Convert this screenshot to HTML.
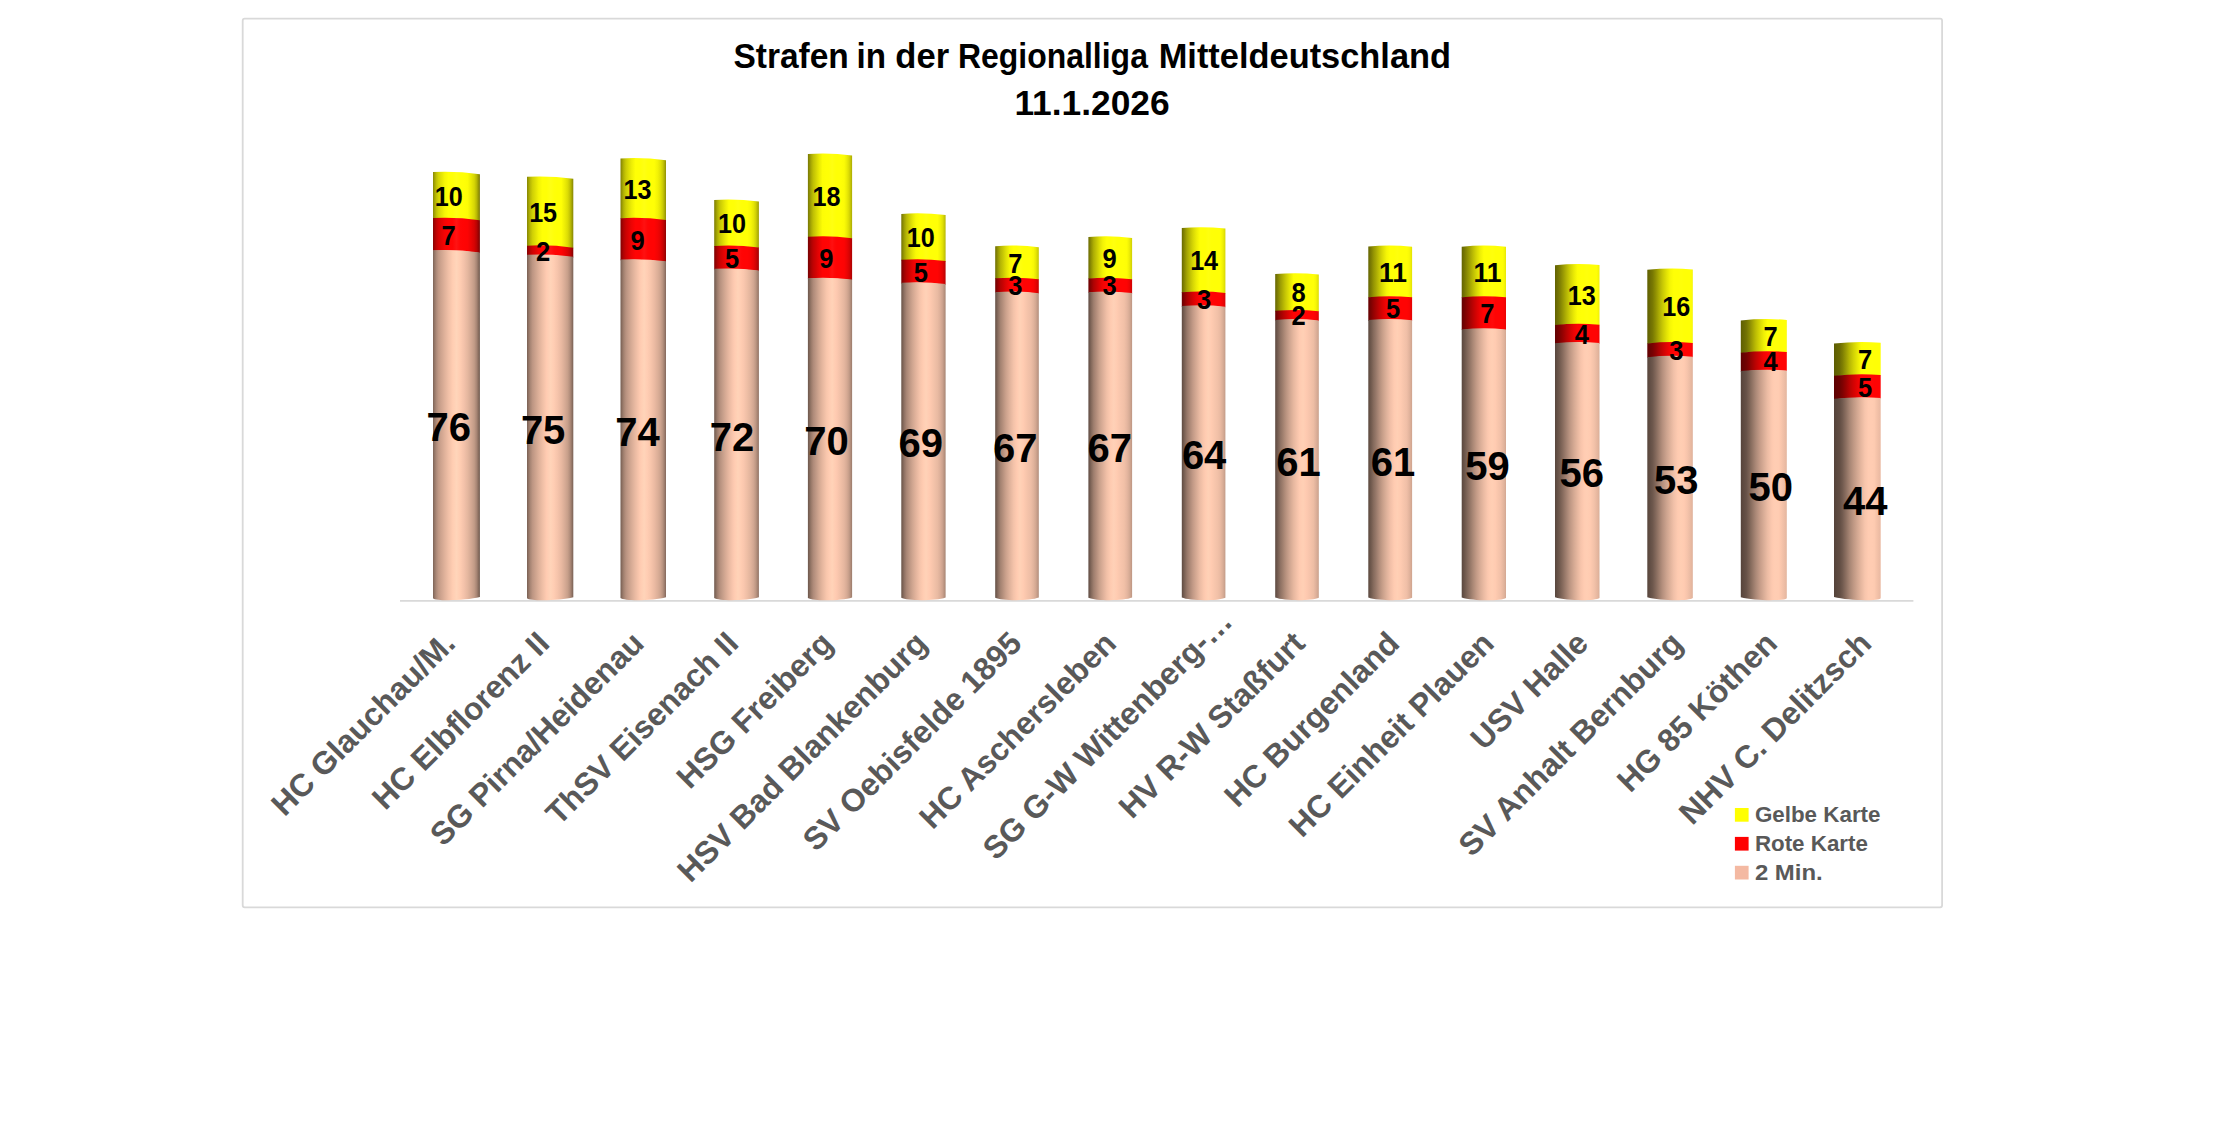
<!DOCTYPE html>
<html lang="de"><head><meta charset="utf-8"><title>Strafen in der Regionalliga Mitteldeutschland</title>
<style>html,body{margin:0;padding:0;background:#fff}svg{display:block}text{font-family:"Liberation Sans",sans-serif;font-weight:bold}</style></head><body>
<svg width="2214" height="1146" viewBox="0 0 2214 1146">
<defs>
<linearGradient id="g0_0" gradientUnits="userSpaceOnUse" x1="433" x2="479.9" y1="0" y2="0"><stop offset="0" stop-color="#7d6357"/><stop offset="0.03" stop-color="#937566"/><stop offset="0.07" stop-color="#ac8978"/><stop offset="0.12" stop-color="#c29a86"/><stop offset="0.18" stop-color="#d0a590"/><stop offset="0.25" stop-color="#e0b29b"/><stop offset="0.33" stop-color="#f1c0a7"/><stop offset="0.42" stop-color="#ffcdb2"/><stop offset="0.43" stop-color="#ffceb3"/><stop offset="0.5" stop-color="#ffd5ba"/><stop offset="0.57" stop-color="#ffceb3"/><stop offset="0.58" stop-color="#ffcdb2"/><stop offset="0.66" stop-color="#f4c2aa"/><stop offset="0.74" stop-color="#e5b79f"/><stop offset="0.82" stop-color="#d2a792"/><stop offset="0.88" stop-color="#c29b87"/><stop offset="0.93" stop-color="#a88675"/><stop offset="0.97" stop-color="#886c5e"/><stop offset="1" stop-color="#6c564b"/></linearGradient>
<linearGradient id="g0_1" gradientUnits="userSpaceOnUse" x1="433" x2="479.9" y1="0" y2="0"><stop offset="0" stop-color="#890202"/><stop offset="0.03" stop-color="#a10303"/><stop offset="0.07" stop-color="#be0303"/><stop offset="0.12" stop-color="#d50303"/><stop offset="0.18" stop-color="#e40404"/><stop offset="0.25" stop-color="#f60404"/><stop offset="0.33" stop-color="#ff0404"/><stop offset="0.42" stop-color="#ff0606"/><stop offset="0.43" stop-color="#ff0808"/><stop offset="0.5" stop-color="#ff1313"/><stop offset="0.57" stop-color="#ff0808"/><stop offset="0.58" stop-color="#ff0606"/><stop offset="0.66" stop-color="#ff0404"/><stop offset="0.74" stop-color="#fc0404"/><stop offset="0.82" stop-color="#e70404"/><stop offset="0.88" stop-color="#d60303"/><stop offset="0.93" stop-color="#b90303"/><stop offset="0.97" stop-color="#950202"/><stop offset="1" stop-color="#770202"/></linearGradient>
<linearGradient id="g0_2" gradientUnits="userSpaceOnUse" x1="433" x2="479.9" y1="0" y2="0"><stop offset="0" stop-color="#898903"/><stop offset="0.03" stop-color="#a1a104"/><stop offset="0.07" stop-color="#bebe04"/><stop offset="0.12" stop-color="#d5d505"/><stop offset="0.18" stop-color="#e4e405"/><stop offset="0.25" stop-color="#f6f606"/><stop offset="0.33" stop-color="#ffff06"/><stop offset="0.42" stop-color="#ffff08"/><stop offset="0.43" stop-color="#ffff0a"/><stop offset="0.5" stop-color="#ffff15"/><stop offset="0.57" stop-color="#ffff0a"/><stop offset="0.58" stop-color="#ffff08"/><stop offset="0.66" stop-color="#ffff06"/><stop offset="0.74" stop-color="#fcfc06"/><stop offset="0.82" stop-color="#e7e705"/><stop offset="0.88" stop-color="#d6d605"/><stop offset="0.93" stop-color="#b9b904"/><stop offset="0.97" stop-color="#959504"/><stop offset="1" stop-color="#777703"/></linearGradient>
<linearGradient id="g1_0" gradientUnits="userSpaceOnUse" x1="527" x2="573.3" y1="0" y2="0"><stop offset="0" stop-color="#796054"/><stop offset="0.03" stop-color="#8e7162"/><stop offset="0.07" stop-color="#a78574"/><stop offset="0.12" stop-color="#bd9683"/><stop offset="0.18" stop-color="#cca28d"/><stop offset="0.25" stop-color="#ddb099"/><stop offset="0.33" stop-color="#eebea5"/><stop offset="0.42" stop-color="#ffcbb1"/><stop offset="0.44" stop-color="#ffcdb3"/><stop offset="0.5" stop-color="#ffd3b8"/><stop offset="0.51" stop-color="#ffd4b9"/><stop offset="0.58" stop-color="#ffcdb3"/><stop offset="0.58" stop-color="#ffcdb3"/><stop offset="0.66" stop-color="#f6c4ab"/><stop offset="0.74" stop-color="#e9b9a1"/><stop offset="0.82" stop-color="#d7ab95"/><stop offset="0.88" stop-color="#c79f8a"/><stop offset="0.93" stop-color="#b08c7a"/><stop offset="0.97" stop-color="#917465"/><stop offset="1" stop-color="#775f53"/></linearGradient>
<linearGradient id="g1_1" gradientUnits="userSpaceOnUse" x1="527" x2="573.3" y1="0" y2="0"><stop offset="0" stop-color="#850202"/><stop offset="0.03" stop-color="#9c0202"/><stop offset="0.07" stop-color="#b80303"/><stop offset="0.12" stop-color="#d00303"/><stop offset="0.18" stop-color="#e00404"/><stop offset="0.25" stop-color="#f30404"/><stop offset="0.33" stop-color="#ff0404"/><stop offset="0.42" stop-color="#ff0404"/><stop offset="0.44" stop-color="#ff0707"/><stop offset="0.5" stop-color="#ff1010"/><stop offset="0.51" stop-color="#ff1212"/><stop offset="0.58" stop-color="#ff0808"/><stop offset="0.58" stop-color="#ff0808"/><stop offset="0.66" stop-color="#ff0404"/><stop offset="0.74" stop-color="#ff0404"/><stop offset="0.82" stop-color="#ec0404"/><stop offset="0.88" stop-color="#db0303"/><stop offset="0.93" stop-color="#c10303"/><stop offset="0.97" stop-color="#a00303"/><stop offset="1" stop-color="#830202"/></linearGradient>
<linearGradient id="g1_2" gradientUnits="userSpaceOnUse" x1="527" x2="573.3" y1="0" y2="0"><stop offset="0" stop-color="#858503"/><stop offset="0.03" stop-color="#9c9c04"/><stop offset="0.07" stop-color="#b8b804"/><stop offset="0.12" stop-color="#d0d005"/><stop offset="0.18" stop-color="#e0e005"/><stop offset="0.25" stop-color="#f3f306"/><stop offset="0.33" stop-color="#ffff06"/><stop offset="0.42" stop-color="#ffff06"/><stop offset="0.44" stop-color="#ffff09"/><stop offset="0.5" stop-color="#ffff12"/><stop offset="0.51" stop-color="#ffff14"/><stop offset="0.58" stop-color="#ffff0a"/><stop offset="0.58" stop-color="#ffff09"/><stop offset="0.66" stop-color="#ffff06"/><stop offset="0.74" stop-color="#ffff06"/><stop offset="0.82" stop-color="#ecec06"/><stop offset="0.88" stop-color="#dbdb05"/><stop offset="0.93" stop-color="#c1c105"/><stop offset="0.97" stop-color="#a0a004"/><stop offset="1" stop-color="#838303"/></linearGradient>
<linearGradient id="g2_0" gradientUnits="userSpaceOnUse" x1="620.5" x2="666" y1="0" y2="0"><stop offset="0" stop-color="#755d51"/><stop offset="0.03" stop-color="#896d5f"/><stop offset="0.07" stop-color="#a28170"/><stop offset="0.12" stop-color="#b89280"/><stop offset="0.18" stop-color="#c89f8b"/><stop offset="0.25" stop-color="#d9ad97"/><stop offset="0.33" stop-color="#ebbba3"/><stop offset="0.42" stop-color="#fdc9af"/><stop offset="0.45" stop-color="#ffcdb3"/><stop offset="0.5" stop-color="#ffd2b7"/><stop offset="0.52" stop-color="#ffd4b9"/><stop offset="0.58" stop-color="#ffceb4"/><stop offset="0.59" stop-color="#ffcdb3"/><stop offset="0.66" stop-color="#f8c6ac"/><stop offset="0.74" stop-color="#ecbba3"/><stop offset="0.82" stop-color="#dcaf98"/><stop offset="0.88" stop-color="#cda38e"/><stop offset="0.93" stop-color="#b7927f"/><stop offset="0.97" stop-color="#9b7b6c"/><stop offset="1" stop-color="#83685b"/></linearGradient>
<linearGradient id="g2_1" gradientUnits="userSpaceOnUse" x1="620.5" x2="666" y1="0" y2="0"><stop offset="0" stop-color="#800202"/><stop offset="0.03" stop-color="#960202"/><stop offset="0.07" stop-color="#b20303"/><stop offset="0.12" stop-color="#ca0303"/><stop offset="0.18" stop-color="#dc0303"/><stop offset="0.25" stop-color="#ef0404"/><stop offset="0.33" stop-color="#ff0404"/><stop offset="0.42" stop-color="#ff0404"/><stop offset="0.45" stop-color="#ff0707"/><stop offset="0.5" stop-color="#ff0e0e"/><stop offset="0.52" stop-color="#ff1111"/><stop offset="0.58" stop-color="#ff0909"/><stop offset="0.59" stop-color="#ff0707"/><stop offset="0.66" stop-color="#ff0404"/><stop offset="0.74" stop-color="#ff0404"/><stop offset="0.82" stop-color="#f20404"/><stop offset="0.88" stop-color="#e10404"/><stop offset="0.93" stop-color="#ca0303"/><stop offset="0.97" stop-color="#ab0303"/><stop offset="1" stop-color="#900202"/></linearGradient>
<linearGradient id="g2_2" gradientUnits="userSpaceOnUse" x1="620.5" x2="666" y1="0" y2="0"><stop offset="0" stop-color="#808003"/><stop offset="0.03" stop-color="#969604"/><stop offset="0.07" stop-color="#b2b204"/><stop offset="0.12" stop-color="#caca05"/><stop offset="0.18" stop-color="#dcdc05"/><stop offset="0.25" stop-color="#efef06"/><stop offset="0.33" stop-color="#ffff06"/><stop offset="0.42" stop-color="#ffff06"/><stop offset="0.45" stop-color="#ffff09"/><stop offset="0.5" stop-color="#ffff10"/><stop offset="0.52" stop-color="#ffff13"/><stop offset="0.58" stop-color="#ffff0b"/><stop offset="0.59" stop-color="#ffff09"/><stop offset="0.66" stop-color="#ffff06"/><stop offset="0.74" stop-color="#ffff06"/><stop offset="0.82" stop-color="#f2f206"/><stop offset="0.88" stop-color="#e1e105"/><stop offset="0.93" stop-color="#caca05"/><stop offset="0.97" stop-color="#abab04"/><stop offset="1" stop-color="#909003"/></linearGradient>
<linearGradient id="g3_0" gradientUnits="userSpaceOnUse" x1="714.2" x2="758.9" y1="0" y2="0"><stop offset="0" stop-color="#70594e"/><stop offset="0.03" stop-color="#83695b"/><stop offset="0.07" stop-color="#9c7c6c"/><stop offset="0.12" stop-color="#b38e7c"/><stop offset="0.18" stop-color="#c39c88"/><stop offset="0.25" stop-color="#d6aa94"/><stop offset="0.33" stop-color="#e9b9a1"/><stop offset="0.42" stop-color="#fac7ae"/><stop offset="0.46" stop-color="#ffccb2"/><stop offset="0.5" stop-color="#ffd0b5"/><stop offset="0.53" stop-color="#ffd3b8"/><stop offset="0.58" stop-color="#ffcfb5"/><stop offset="0.6" stop-color="#ffcdb2"/><stop offset="0.66" stop-color="#fac7ae"/><stop offset="0.74" stop-color="#eebea5"/><stop offset="0.82" stop-color="#e0b39c"/><stop offset="0.88" stop-color="#d2a792"/><stop offset="0.93" stop-color="#be9884"/><stop offset="0.97" stop-color="#a58372"/><stop offset="1" stop-color="#8e7163"/></linearGradient>
<linearGradient id="g3_1" gradientUnits="userSpaceOnUse" x1="714.2" x2="758.9" y1="0" y2="0"><stop offset="0" stop-color="#7c0202"/><stop offset="0.03" stop-color="#910202"/><stop offset="0.07" stop-color="#ac0303"/><stop offset="0.12" stop-color="#c50303"/><stop offset="0.18" stop-color="#d70303"/><stop offset="0.25" stop-color="#eb0404"/><stop offset="0.33" stop-color="#ff0404"/><stop offset="0.42" stop-color="#ff0404"/><stop offset="0.46" stop-color="#ff0606"/><stop offset="0.5" stop-color="#ff0b0b"/><stop offset="0.53" stop-color="#ff1111"/><stop offset="0.58" stop-color="#ff0a0a"/><stop offset="0.6" stop-color="#ff0606"/><stop offset="0.66" stop-color="#ff0404"/><stop offset="0.74" stop-color="#ff0404"/><stop offset="0.82" stop-color="#f70404"/><stop offset="0.88" stop-color="#e70404"/><stop offset="0.93" stop-color="#d10303"/><stop offset="0.97" stop-color="#b50303"/><stop offset="1" stop-color="#9c0202"/></linearGradient>
<linearGradient id="g3_2" gradientUnits="userSpaceOnUse" x1="714.2" x2="758.9" y1="0" y2="0"><stop offset="0" stop-color="#7c7c03"/><stop offset="0.03" stop-color="#919103"/><stop offset="0.07" stop-color="#acac04"/><stop offset="0.12" stop-color="#c5c505"/><stop offset="0.18" stop-color="#d7d705"/><stop offset="0.25" stop-color="#ebeb06"/><stop offset="0.33" stop-color="#ffff06"/><stop offset="0.42" stop-color="#ffff06"/><stop offset="0.46" stop-color="#ffff08"/><stop offset="0.5" stop-color="#ffff0d"/><stop offset="0.53" stop-color="#ffff12"/><stop offset="0.58" stop-color="#ffff0c"/><stop offset="0.6" stop-color="#ffff08"/><stop offset="0.66" stop-color="#ffff06"/><stop offset="0.74" stop-color="#ffff06"/><stop offset="0.82" stop-color="#f7f706"/><stop offset="0.88" stop-color="#e7e705"/><stop offset="0.93" stop-color="#d1d105"/><stop offset="0.97" stop-color="#b5b504"/><stop offset="1" stop-color="#9c9c04"/></linearGradient>
<linearGradient id="g4_0" gradientUnits="userSpaceOnUse" x1="807.9" x2="852.1" y1="0" y2="0"><stop offset="0" stop-color="#6c564b"/><stop offset="0.03" stop-color="#7e6558"/><stop offset="0.07" stop-color="#977868"/><stop offset="0.12" stop-color="#ae8a79"/><stop offset="0.18" stop-color="#bf9885"/><stop offset="0.25" stop-color="#d3a892"/><stop offset="0.33" stop-color="#e6b79f"/><stop offset="0.42" stop-color="#f8c6ac"/><stop offset="0.48" stop-color="#ffccb2"/><stop offset="0.5" stop-color="#ffceb4"/><stop offset="0.55" stop-color="#ffd3b8"/><stop offset="0.58" stop-color="#ffd0b5"/><stop offset="0.62" stop-color="#ffccb2"/><stop offset="0.66" stop-color="#fcc8af"/><stop offset="0.74" stop-color="#f1c0a7"/><stop offset="0.82" stop-color="#e5b69f"/><stop offset="0.88" stop-color="#d7ab95"/><stop offset="0.93" stop-color="#c59d89"/><stop offset="0.97" stop-color="#ae8b79"/><stop offset="1" stop-color="#997a6a"/></linearGradient>
<linearGradient id="g4_1" gradientUnits="userSpaceOnUse" x1="807.9" x2="852.1" y1="0" y2="0"><stop offset="0" stop-color="#770202"/><stop offset="0.03" stop-color="#8b0202"/><stop offset="0.07" stop-color="#a60303"/><stop offset="0.12" stop-color="#bf0303"/><stop offset="0.18" stop-color="#d20303"/><stop offset="0.25" stop-color="#e80404"/><stop offset="0.33" stop-color="#fd0404"/><stop offset="0.42" stop-color="#ff0404"/><stop offset="0.48" stop-color="#ff0505"/><stop offset="0.5" stop-color="#ff0909"/><stop offset="0.55" stop-color="#ff1010"/><stop offset="0.58" stop-color="#ff0b0b"/><stop offset="0.62" stop-color="#ff0606"/><stop offset="0.66" stop-color="#ff0404"/><stop offset="0.74" stop-color="#ff0404"/><stop offset="0.82" stop-color="#fc0404"/><stop offset="0.88" stop-color="#ec0404"/><stop offset="0.93" stop-color="#d90303"/><stop offset="0.97" stop-color="#c00303"/><stop offset="1" stop-color="#a90303"/></linearGradient>
<linearGradient id="g4_2" gradientUnits="userSpaceOnUse" x1="807.9" x2="852.1" y1="0" y2="0"><stop offset="0" stop-color="#777703"/><stop offset="0.03" stop-color="#8b8b03"/><stop offset="0.07" stop-color="#a6a604"/><stop offset="0.12" stop-color="#bfbf04"/><stop offset="0.18" stop-color="#d2d205"/><stop offset="0.25" stop-color="#e8e805"/><stop offset="0.33" stop-color="#fdfd06"/><stop offset="0.42" stop-color="#ffff06"/><stop offset="0.48" stop-color="#ffff07"/><stop offset="0.5" stop-color="#ffff0b"/><stop offset="0.55" stop-color="#ffff12"/><stop offset="0.58" stop-color="#ffff0d"/><stop offset="0.62" stop-color="#ffff08"/><stop offset="0.66" stop-color="#ffff06"/><stop offset="0.74" stop-color="#ffff06"/><stop offset="0.82" stop-color="#fcfc06"/><stop offset="0.88" stop-color="#ecec06"/><stop offset="0.93" stop-color="#d9d905"/><stop offset="0.97" stop-color="#c0c005"/><stop offset="1" stop-color="#a9a904"/></linearGradient>
<linearGradient id="g5_0" gradientUnits="userSpaceOnUse" x1="901.3" x2="945.6" y1="0" y2="0"><stop offset="0" stop-color="#685348"/><stop offset="0.03" stop-color="#7a6154"/><stop offset="0.07" stop-color="#917365"/><stop offset="0.12" stop-color="#a98675"/><stop offset="0.18" stop-color="#bb9582"/><stop offset="0.25" stop-color="#cfa590"/><stop offset="0.33" stop-color="#e3b49d"/><stop offset="0.42" stop-color="#f6c4ab"/><stop offset="0.49" stop-color="#ffccb1"/><stop offset="0.5" stop-color="#ffcdb3"/><stop offset="0.56" stop-color="#ffd2b7"/><stop offset="0.58" stop-color="#ffd0b6"/><stop offset="0.63" stop-color="#ffccb2"/><stop offset="0.66" stop-color="#fdc9af"/><stop offset="0.74" stop-color="#f3c2a9"/><stop offset="0.82" stop-color="#e9baa2"/><stop offset="0.88" stop-color="#dcaf99"/><stop offset="0.93" stop-color="#cca28e"/><stop offset="0.97" stop-color="#b8927f"/><stop offset="1" stop-color="#a58372"/></linearGradient>
<linearGradient id="g5_1" gradientUnits="userSpaceOnUse" x1="901.3" x2="945.6" y1="0" y2="0"><stop offset="0" stop-color="#730202"/><stop offset="0.03" stop-color="#860202"/><stop offset="0.07" stop-color="#9f0303"/><stop offset="0.12" stop-color="#b90303"/><stop offset="0.18" stop-color="#cd0303"/><stop offset="0.25" stop-color="#e40404"/><stop offset="0.33" stop-color="#f90404"/><stop offset="0.42" stop-color="#ff0404"/><stop offset="0.49" stop-color="#ff0505"/><stop offset="0.5" stop-color="#ff0707"/><stop offset="0.56" stop-color="#ff0f0f"/><stop offset="0.58" stop-color="#ff0c0c"/><stop offset="0.63" stop-color="#ff0606"/><stop offset="0.66" stop-color="#ff0404"/><stop offset="0.74" stop-color="#ff0404"/><stop offset="0.82" stop-color="#ff0404"/><stop offset="0.88" stop-color="#f20404"/><stop offset="0.93" stop-color="#e10404"/><stop offset="0.97" stop-color="#ca0303"/><stop offset="1" stop-color="#b50303"/></linearGradient>
<linearGradient id="g5_2" gradientUnits="userSpaceOnUse" x1="901.3" x2="945.6" y1="0" y2="0"><stop offset="0" stop-color="#737303"/><stop offset="0.03" stop-color="#868603"/><stop offset="0.07" stop-color="#9f9f04"/><stop offset="0.12" stop-color="#b9b904"/><stop offset="0.18" stop-color="#cdcd05"/><stop offset="0.25" stop-color="#e4e405"/><stop offset="0.33" stop-color="#f9f906"/><stop offset="0.42" stop-color="#ffff06"/><stop offset="0.49" stop-color="#ffff07"/><stop offset="0.5" stop-color="#ffff09"/><stop offset="0.56" stop-color="#ffff11"/><stop offset="0.58" stop-color="#ffff0e"/><stop offset="0.63" stop-color="#ffff08"/><stop offset="0.66" stop-color="#ffff06"/><stop offset="0.74" stop-color="#ffff06"/><stop offset="0.82" stop-color="#ffff06"/><stop offset="0.88" stop-color="#f2f206"/><stop offset="0.93" stop-color="#e1e105"/><stop offset="0.97" stop-color="#caca05"/><stop offset="1" stop-color="#b5b504"/></linearGradient>
<linearGradient id="g6_0" gradientUnits="userSpaceOnUse" x1="995.2" x2="1038.8" y1="0" y2="0"><stop offset="0" stop-color="#645045"/><stop offset="0.03" stop-color="#755d51"/><stop offset="0.07" stop-color="#8b6f61"/><stop offset="0.12" stop-color="#a38271"/><stop offset="0.18" stop-color="#b6917e"/><stop offset="0.25" stop-color="#cca28d"/><stop offset="0.33" stop-color="#dfb29b"/><stop offset="0.42" stop-color="#f3c2a9"/><stop offset="0.5" stop-color="#ffcbb1"/><stop offset="0.5" stop-color="#ffcbb1"/><stop offset="0.57" stop-color="#ffd2b7"/><stop offset="0.58" stop-color="#ffd1b6"/><stop offset="0.64" stop-color="#ffccb2"/><stop offset="0.66" stop-color="#fecab0"/><stop offset="0.74" stop-color="#f5c3aa"/><stop offset="0.82" stop-color="#edbda5"/><stop offset="0.88" stop-color="#e1b39c"/><stop offset="0.93" stop-color="#d3a892"/><stop offset="0.97" stop-color="#c19986"/><stop offset="1" stop-color="#b08c7a"/></linearGradient>
<linearGradient id="g6_1" gradientUnits="userSpaceOnUse" x1="995.2" x2="1038.8" y1="0" y2="0"><stop offset="0" stop-color="#6e0202"/><stop offset="0.03" stop-color="#800202"/><stop offset="0.07" stop-color="#990202"/><stop offset="0.12" stop-color="#b40303"/><stop offset="0.18" stop-color="#c80303"/><stop offset="0.25" stop-color="#e00404"/><stop offset="0.33" stop-color="#f60404"/><stop offset="0.42" stop-color="#ff0404"/><stop offset="0.5" stop-color="#ff0404"/><stop offset="0.5" stop-color="#ff0404"/><stop offset="0.57" stop-color="#ff0e0e"/><stop offset="0.58" stop-color="#ff0d0d"/><stop offset="0.64" stop-color="#ff0505"/><stop offset="0.66" stop-color="#ff0404"/><stop offset="0.74" stop-color="#ff0404"/><stop offset="0.82" stop-color="#ff0404"/><stop offset="0.88" stop-color="#f80404"/><stop offset="0.93" stop-color="#e80404"/><stop offset="0.97" stop-color="#d40303"/><stop offset="1" stop-color="#c20303"/></linearGradient>
<linearGradient id="g6_2" gradientUnits="userSpaceOnUse" x1="995.2" x2="1038.8" y1="0" y2="0"><stop offset="0" stop-color="#6e6e03"/><stop offset="0.03" stop-color="#808003"/><stop offset="0.07" stop-color="#999904"/><stop offset="0.12" stop-color="#b4b404"/><stop offset="0.18" stop-color="#c8c805"/><stop offset="0.25" stop-color="#e0e005"/><stop offset="0.33" stop-color="#f6f606"/><stop offset="0.42" stop-color="#ffff06"/><stop offset="0.5" stop-color="#ffff06"/><stop offset="0.5" stop-color="#ffff06"/><stop offset="0.57" stop-color="#ffff10"/><stop offset="0.58" stop-color="#ffff0f"/><stop offset="0.64" stop-color="#ffff07"/><stop offset="0.66" stop-color="#ffff06"/><stop offset="0.74" stop-color="#ffff06"/><stop offset="0.82" stop-color="#ffff06"/><stop offset="0.88" stop-color="#f8f806"/><stop offset="0.93" stop-color="#e8e805"/><stop offset="0.97" stop-color="#d4d405"/><stop offset="1" stop-color="#c2c205"/></linearGradient>
<linearGradient id="g7_0" gradientUnits="userSpaceOnUse" x1="1088.4" x2="1132.1" y1="0" y2="0"><stop offset="0" stop-color="#604c43"/><stop offset="0.03" stop-color="#70594e"/><stop offset="0.07" stop-color="#866b5d"/><stop offset="0.12" stop-color="#9e7e6e"/><stop offset="0.18" stop-color="#b28d7b"/><stop offset="0.25" stop-color="#c8a08b"/><stop offset="0.33" stop-color="#dcaf99"/><stop offset="0.42" stop-color="#f1c0a7"/><stop offset="0.5" stop-color="#fdcab0"/><stop offset="0.51" stop-color="#ffcbb1"/><stop offset="0.58" stop-color="#ffd1b7"/><stop offset="0.58" stop-color="#ffd1b7"/><stop offset="0.65" stop-color="#ffccb2"/><stop offset="0.66" stop-color="#ffcbb1"/><stop offset="0.74" stop-color="#f7c5ac"/><stop offset="0.82" stop-color="#f1c0a7"/><stop offset="0.88" stop-color="#e6b7a0"/><stop offset="0.93" stop-color="#d9ad97"/><stop offset="0.97" stop-color="#caa18c"/><stop offset="1" stop-color="#bc9582"/></linearGradient>
<linearGradient id="g7_1" gradientUnits="userSpaceOnUse" x1="1088.4" x2="1132.1" y1="0" y2="0"><stop offset="0" stop-color="#6a0202"/><stop offset="0.03" stop-color="#7b0202"/><stop offset="0.07" stop-color="#930202"/><stop offset="0.12" stop-color="#ae0303"/><stop offset="0.18" stop-color="#c30303"/><stop offset="0.25" stop-color="#dc0303"/><stop offset="0.33" stop-color="#f20404"/><stop offset="0.42" stop-color="#ff0404"/><stop offset="0.5" stop-color="#ff0404"/><stop offset="0.51" stop-color="#ff0404"/><stop offset="0.58" stop-color="#ff0d0d"/><stop offset="0.58" stop-color="#ff0d0d"/><stop offset="0.65" stop-color="#ff0505"/><stop offset="0.66" stop-color="#ff0404"/><stop offset="0.74" stop-color="#ff0404"/><stop offset="0.82" stop-color="#ff0404"/><stop offset="0.88" stop-color="#fd0404"/><stop offset="0.93" stop-color="#ef0404"/><stop offset="0.97" stop-color="#de0303"/><stop offset="1" stop-color="#ce0303"/></linearGradient>
<linearGradient id="g7_2" gradientUnits="userSpaceOnUse" x1="1088.4" x2="1132.1" y1="0" y2="0"><stop offset="0" stop-color="#6a6a02"/><stop offset="0.03" stop-color="#7b7b03"/><stop offset="0.07" stop-color="#939303"/><stop offset="0.12" stop-color="#aeae04"/><stop offset="0.18" stop-color="#c3c305"/><stop offset="0.25" stop-color="#dcdc05"/><stop offset="0.33" stop-color="#f2f206"/><stop offset="0.42" stop-color="#ffff06"/><stop offset="0.5" stop-color="#ffff06"/><stop offset="0.51" stop-color="#ffff06"/><stop offset="0.58" stop-color="#ffff0f"/><stop offset="0.58" stop-color="#ffff0f"/><stop offset="0.65" stop-color="#ffff07"/><stop offset="0.66" stop-color="#ffff06"/><stop offset="0.74" stop-color="#ffff06"/><stop offset="0.82" stop-color="#ffff06"/><stop offset="0.88" stop-color="#fdfd06"/><stop offset="0.93" stop-color="#efef06"/><stop offset="0.97" stop-color="#dede05"/><stop offset="1" stop-color="#cece05"/></linearGradient>
<linearGradient id="g8_0" gradientUnits="userSpaceOnUse" x1="1181.8" x2="1225.4" y1="0" y2="0"><stop offset="0" stop-color="#5e4b42"/><stop offset="0.03" stop-color="#6c564b"/><stop offset="0.07" stop-color="#7f6558"/><stop offset="0.12" stop-color="#967768"/><stop offset="0.18" stop-color="#aa8776"/><stop offset="0.25" stop-color="#c19986"/><stop offset="0.33" stop-color="#d6aa94"/><stop offset="0.42" stop-color="#ecbca4"/><stop offset="0.5" stop-color="#fac7ad"/><stop offset="0.54" stop-color="#ffcbb1"/><stop offset="0.58" stop-color="#ffcfb4"/><stop offset="0.61" stop-color="#ffd1b6"/><stop offset="0.66" stop-color="#ffcdb3"/><stop offset="0.68" stop-color="#ffcbb1"/><stop offset="0.74" stop-color="#f9c7ad"/><stop offset="0.82" stop-color="#f2c1a8"/><stop offset="0.88" stop-color="#eabaa2"/><stop offset="0.93" stop-color="#ddb099"/><stop offset="0.97" stop-color="#cfa590"/><stop offset="1" stop-color="#c19a86"/></linearGradient>
<linearGradient id="g8_1" gradientUnits="userSpaceOnUse" x1="1181.8" x2="1225.4" y1="0" y2="0"><stop offset="0" stop-color="#680202"/><stop offset="0.03" stop-color="#770202"/><stop offset="0.07" stop-color="#8c0202"/><stop offset="0.12" stop-color="#a50303"/><stop offset="0.18" stop-color="#bb0303"/><stop offset="0.25" stop-color="#d40303"/><stop offset="0.33" stop-color="#eb0404"/><stop offset="0.42" stop-color="#ff0404"/><stop offset="0.5" stop-color="#ff0404"/><stop offset="0.54" stop-color="#ff0404"/><stop offset="0.58" stop-color="#ff0909"/><stop offset="0.61" stop-color="#ff0d0d"/><stop offset="0.66" stop-color="#ff0707"/><stop offset="0.68" stop-color="#ff0505"/><stop offset="0.74" stop-color="#ff0404"/><stop offset="0.82" stop-color="#ff0404"/><stop offset="0.88" stop-color="#ff0404"/><stop offset="0.93" stop-color="#f30404"/><stop offset="0.97" stop-color="#e40404"/><stop offset="1" stop-color="#d50303"/></linearGradient>
<linearGradient id="g8_2" gradientUnits="userSpaceOnUse" x1="1181.8" x2="1225.4" y1="0" y2="0"><stop offset="0" stop-color="#686802"/><stop offset="0.03" stop-color="#777703"/><stop offset="0.07" stop-color="#8c8c03"/><stop offset="0.12" stop-color="#a5a504"/><stop offset="0.18" stop-color="#bbbb04"/><stop offset="0.25" stop-color="#d4d405"/><stop offset="0.33" stop-color="#ebeb06"/><stop offset="0.42" stop-color="#ffff06"/><stop offset="0.5" stop-color="#ffff06"/><stop offset="0.54" stop-color="#ffff06"/><stop offset="0.58" stop-color="#ffff0b"/><stop offset="0.61" stop-color="#ffff0f"/><stop offset="0.66" stop-color="#ffff09"/><stop offset="0.68" stop-color="#ffff07"/><stop offset="0.74" stop-color="#ffff06"/><stop offset="0.82" stop-color="#ffff06"/><stop offset="0.88" stop-color="#ffff06"/><stop offset="0.93" stop-color="#f3f306"/><stop offset="0.97" stop-color="#e4e405"/><stop offset="1" stop-color="#d5d505"/></linearGradient>
<linearGradient id="g9_0" gradientUnits="userSpaceOnUse" x1="1275.2" x2="1318.8" y1="0" y2="0"><stop offset="0" stop-color="#5d4a41"/><stop offset="0.03" stop-color="#695349"/><stop offset="0.07" stop-color="#796054"/><stop offset="0.12" stop-color="#8e7163"/><stop offset="0.18" stop-color="#a28170"/><stop offset="0.25" stop-color="#b99380"/><stop offset="0.33" stop-color="#cfa590"/><stop offset="0.42" stop-color="#e6b79f"/><stop offset="0.5" stop-color="#f5c3aa"/><stop offset="0.56" stop-color="#ffcbb1"/><stop offset="0.58" stop-color="#ffccb2"/><stop offset="0.64" stop-color="#ffd0b5"/><stop offset="0.66" stop-color="#ffceb4"/><stop offset="0.7" stop-color="#ffcbb1"/><stop offset="0.74" stop-color="#fcc8af"/><stop offset="0.82" stop-color="#f4c2a9"/><stop offset="0.88" stop-color="#edbda4"/><stop offset="0.93" stop-color="#e0b29c"/><stop offset="0.97" stop-color="#d4a993"/><stop offset="1" stop-color="#c79e8a"/></linearGradient>
<linearGradient id="g9_1" gradientUnits="userSpaceOnUse" x1="1275.2" x2="1318.8" y1="0" y2="0"><stop offset="0" stop-color="#660202"/><stop offset="0.03" stop-color="#730202"/><stop offset="0.07" stop-color="#850202"/><stop offset="0.12" stop-color="#9c0202"/><stop offset="0.18" stop-color="#b20303"/><stop offset="0.25" stop-color="#cb0303"/><stop offset="0.33" stop-color="#e40404"/><stop offset="0.42" stop-color="#fd0404"/><stop offset="0.5" stop-color="#ff0404"/><stop offset="0.56" stop-color="#ff0404"/><stop offset="0.58" stop-color="#ff0606"/><stop offset="0.64" stop-color="#ff0c0c"/><stop offset="0.66" stop-color="#ff0909"/><stop offset="0.7" stop-color="#ff0404"/><stop offset="0.74" stop-color="#ff0404"/><stop offset="0.82" stop-color="#ff0404"/><stop offset="0.88" stop-color="#ff0404"/><stop offset="0.93" stop-color="#f70404"/><stop offset="0.97" stop-color="#e90404"/><stop offset="1" stop-color="#db0303"/></linearGradient>
<linearGradient id="g9_2" gradientUnits="userSpaceOnUse" x1="1275.2" x2="1318.8" y1="0" y2="0"><stop offset="0" stop-color="#666602"/><stop offset="0.03" stop-color="#737303"/><stop offset="0.07" stop-color="#858503"/><stop offset="0.12" stop-color="#9c9c04"/><stop offset="0.18" stop-color="#b2b204"/><stop offset="0.25" stop-color="#cbcb05"/><stop offset="0.33" stop-color="#e4e405"/><stop offset="0.42" stop-color="#fdfd06"/><stop offset="0.5" stop-color="#ffff06"/><stop offset="0.56" stop-color="#ffff06"/><stop offset="0.58" stop-color="#ffff08"/><stop offset="0.64" stop-color="#ffff0e"/><stop offset="0.66" stop-color="#ffff0b"/><stop offset="0.7" stop-color="#ffff06"/><stop offset="0.74" stop-color="#ffff06"/><stop offset="0.82" stop-color="#ffff06"/><stop offset="0.88" stop-color="#ffff06"/><stop offset="0.93" stop-color="#f7f706"/><stop offset="0.97" stop-color="#e9e905"/><stop offset="1" stop-color="#dbdb05"/></linearGradient>
<linearGradient id="g10_0" gradientUnits="userSpaceOnUse" x1="1368.3" x2="1412.1" y1="0" y2="0"><stop offset="0" stop-color="#5b493f"/><stop offset="0.03" stop-color="#665146"/><stop offset="0.07" stop-color="#735c50"/><stop offset="0.12" stop-color="#866b5d"/><stop offset="0.18" stop-color="#997a6b"/><stop offset="0.25" stop-color="#b18d7b"/><stop offset="0.33" stop-color="#c9a08b"/><stop offset="0.42" stop-color="#dfb29b"/><stop offset="0.5" stop-color="#f1bfa7"/><stop offset="0.58" stop-color="#fdcab0"/><stop offset="0.59" stop-color="#ffcbb1"/><stop offset="0.66" stop-color="#ffcfb5"/><stop offset="0.66" stop-color="#ffd0b5"/><stop offset="0.73" stop-color="#ffcbb1"/><stop offset="0.74" stop-color="#fecbb1"/><stop offset="0.82" stop-color="#f6c4ab"/><stop offset="0.88" stop-color="#f0bfa7"/><stop offset="0.93" stop-color="#e4b59e"/><stop offset="0.97" stop-color="#d9ac96"/><stop offset="1" stop-color="#cda38e"/></linearGradient>
<linearGradient id="g10_1" gradientUnits="userSpaceOnUse" x1="1368.3" x2="1412.1" y1="0" y2="0"><stop offset="0" stop-color="#650202"/><stop offset="0.03" stop-color="#700202"/><stop offset="0.07" stop-color="#7f0202"/><stop offset="0.12" stop-color="#940202"/><stop offset="0.18" stop-color="#a90303"/><stop offset="0.25" stop-color="#c30303"/><stop offset="0.33" stop-color="#dd0303"/><stop offset="0.42" stop-color="#f60404"/><stop offset="0.5" stop-color="#ff0404"/><stop offset="0.58" stop-color="#ff0404"/><stop offset="0.59" stop-color="#ff0404"/><stop offset="0.66" stop-color="#ff0b0b"/><stop offset="0.66" stop-color="#ff0b0b"/><stop offset="0.73" stop-color="#ff0404"/><stop offset="0.74" stop-color="#ff0404"/><stop offset="0.82" stop-color="#ff0404"/><stop offset="0.88" stop-color="#ff0404"/><stop offset="0.93" stop-color="#fa0404"/><stop offset="0.97" stop-color="#ee0404"/><stop offset="1" stop-color="#e10404"/></linearGradient>
<linearGradient id="g10_2" gradientUnits="userSpaceOnUse" x1="1368.3" x2="1412.1" y1="0" y2="0"><stop offset="0" stop-color="#656502"/><stop offset="0.03" stop-color="#707003"/><stop offset="0.07" stop-color="#7f7f03"/><stop offset="0.12" stop-color="#949403"/><stop offset="0.18" stop-color="#a9a904"/><stop offset="0.25" stop-color="#c3c305"/><stop offset="0.33" stop-color="#dddd05"/><stop offset="0.42" stop-color="#f6f606"/><stop offset="0.5" stop-color="#ffff06"/><stop offset="0.58" stop-color="#ffff06"/><stop offset="0.59" stop-color="#ffff06"/><stop offset="0.66" stop-color="#ffff0c"/><stop offset="0.66" stop-color="#ffff0d"/><stop offset="0.73" stop-color="#ffff06"/><stop offset="0.74" stop-color="#ffff06"/><stop offset="0.82" stop-color="#ffff06"/><stop offset="0.88" stop-color="#ffff06"/><stop offset="0.93" stop-color="#fafa06"/><stop offset="0.97" stop-color="#eeee06"/><stop offset="1" stop-color="#e1e105"/></linearGradient>
<linearGradient id="g11_0" gradientUnits="userSpaceOnUse" x1="1461.7" x2="1506" y1="0" y2="0"><stop offset="0" stop-color="#5a483e"/><stop offset="0.03" stop-color="#624e44"/><stop offset="0.07" stop-color="#6e584c"/><stop offset="0.12" stop-color="#7e6558"/><stop offset="0.18" stop-color="#917465"/><stop offset="0.25" stop-color="#a98775"/><stop offset="0.33" stop-color="#c29a86"/><stop offset="0.42" stop-color="#d9ad97"/><stop offset="0.5" stop-color="#ebbba3"/><stop offset="0.58" stop-color="#fac7ae"/><stop offset="0.62" stop-color="#ffcbb1"/><stop offset="0.66" stop-color="#ffceb3"/><stop offset="0.69" stop-color="#ffcfb4"/><stop offset="0.74" stop-color="#ffccb2"/><stop offset="0.76" stop-color="#ffcbb1"/><stop offset="0.82" stop-color="#f8c6ac"/><stop offset="0.88" stop-color="#f2c0a8"/><stop offset="0.93" stop-color="#e7b8a0"/><stop offset="0.97" stop-color="#ddb099"/><stop offset="1" stop-color="#d2a792"/></linearGradient>
<linearGradient id="g11_1" gradientUnits="userSpaceOnUse" x1="1461.7" x2="1506" y1="0" y2="0"><stop offset="0" stop-color="#630202"/><stop offset="0.03" stop-color="#6c0202"/><stop offset="0.07" stop-color="#790202"/><stop offset="0.12" stop-color="#8b0202"/><stop offset="0.18" stop-color="#a00303"/><stop offset="0.25" stop-color="#ba0303"/><stop offset="0.33" stop-color="#d50303"/><stop offset="0.42" stop-color="#ef0404"/><stop offset="0.5" stop-color="#ff0404"/><stop offset="0.58" stop-color="#ff0404"/><stop offset="0.62" stop-color="#ff0404"/><stop offset="0.66" stop-color="#ff0808"/><stop offset="0.69" stop-color="#ff0a0a"/><stop offset="0.74" stop-color="#ff0606"/><stop offset="0.76" stop-color="#ff0404"/><stop offset="0.82" stop-color="#ff0404"/><stop offset="0.88" stop-color="#ff0404"/><stop offset="0.93" stop-color="#fe0404"/><stop offset="0.97" stop-color="#f30404"/><stop offset="1" stop-color="#e70404"/></linearGradient>
<linearGradient id="g11_2" gradientUnits="userSpaceOnUse" x1="1461.7" x2="1506" y1="0" y2="0"><stop offset="0" stop-color="#636302"/><stop offset="0.03" stop-color="#6c6c03"/><stop offset="0.07" stop-color="#797903"/><stop offset="0.12" stop-color="#8b8b03"/><stop offset="0.18" stop-color="#a0a004"/><stop offset="0.25" stop-color="#baba04"/><stop offset="0.33" stop-color="#d5d505"/><stop offset="0.42" stop-color="#efef06"/><stop offset="0.5" stop-color="#ffff06"/><stop offset="0.58" stop-color="#ffff06"/><stop offset="0.62" stop-color="#ffff06"/><stop offset="0.66" stop-color="#ffff0a"/><stop offset="0.69" stop-color="#ffff0c"/><stop offset="0.74" stop-color="#ffff08"/><stop offset="0.76" stop-color="#ffff06"/><stop offset="0.82" stop-color="#ffff06"/><stop offset="0.88" stop-color="#ffff06"/><stop offset="0.93" stop-color="#fefe06"/><stop offset="0.97" stop-color="#f3f306"/><stop offset="1" stop-color="#e7e705"/></linearGradient>
<linearGradient id="g12_0" gradientUnits="userSpaceOnUse" x1="1555" x2="1599.5" y1="0" y2="0"><stop offset="0" stop-color="#58463d"/><stop offset="0.03" stop-color="#5f4c42"/><stop offset="0.07" stop-color="#695449"/><stop offset="0.12" stop-color="#765e52"/><stop offset="0.18" stop-color="#896d5f"/><stop offset="0.25" stop-color="#a18070"/><stop offset="0.33" stop-color="#bb9582"/><stop offset="0.42" stop-color="#d3a892"/><stop offset="0.5" stop-color="#e6b79f"/><stop offset="0.58" stop-color="#f7c4ab"/><stop offset="0.65" stop-color="#ffcbb1"/><stop offset="0.66" stop-color="#ffccb2"/><stop offset="0.72" stop-color="#ffceb4"/><stop offset="0.74" stop-color="#ffcdb3"/><stop offset="0.79" stop-color="#ffcbb1"/><stop offset="0.82" stop-color="#fbc8ae"/><stop offset="0.88" stop-color="#f3c2a9"/><stop offset="0.93" stop-color="#eabaa2"/><stop offset="0.97" stop-color="#e2b49d"/><stop offset="1" stop-color="#d8ac96"/></linearGradient>
<linearGradient id="g12_1" gradientUnits="userSpaceOnUse" x1="1555" x2="1599.5" y1="0" y2="0"><stop offset="0" stop-color="#610202"/><stop offset="0.03" stop-color="#690202"/><stop offset="0.07" stop-color="#730202"/><stop offset="0.12" stop-color="#820202"/><stop offset="0.18" stop-color="#970202"/><stop offset="0.25" stop-color="#b10303"/><stop offset="0.33" stop-color="#cd0303"/><stop offset="0.42" stop-color="#e80404"/><stop offset="0.5" stop-color="#fc0404"/><stop offset="0.58" stop-color="#ff0404"/><stop offset="0.65" stop-color="#ff0404"/><stop offset="0.66" stop-color="#ff0505"/><stop offset="0.72" stop-color="#ff0909"/><stop offset="0.74" stop-color="#ff0707"/><stop offset="0.79" stop-color="#ff0404"/><stop offset="0.82" stop-color="#ff0404"/><stop offset="0.88" stop-color="#ff0404"/><stop offset="0.93" stop-color="#ff0404"/><stop offset="0.97" stop-color="#f80404"/><stop offset="1" stop-color="#ed0404"/></linearGradient>
<linearGradient id="g12_2" gradientUnits="userSpaceOnUse" x1="1555" x2="1599.5" y1="0" y2="0"><stop offset="0" stop-color="#616102"/><stop offset="0.03" stop-color="#696902"/><stop offset="0.07" stop-color="#737303"/><stop offset="0.12" stop-color="#828203"/><stop offset="0.18" stop-color="#979704"/><stop offset="0.25" stop-color="#b1b104"/><stop offset="0.33" stop-color="#cdcd05"/><stop offset="0.42" stop-color="#e8e805"/><stop offset="0.5" stop-color="#fcfc06"/><stop offset="0.58" stop-color="#ffff06"/><stop offset="0.65" stop-color="#ffff06"/><stop offset="0.66" stop-color="#ffff07"/><stop offset="0.72" stop-color="#ffff0b"/><stop offset="0.74" stop-color="#ffff09"/><stop offset="0.79" stop-color="#ffff06"/><stop offset="0.82" stop-color="#ffff06"/><stop offset="0.88" stop-color="#ffff06"/><stop offset="0.93" stop-color="#ffff06"/><stop offset="0.97" stop-color="#f8f806"/><stop offset="1" stop-color="#eded06"/></linearGradient>
<linearGradient id="g13_0" gradientUnits="userSpaceOnUse" x1="1647.3" x2="1692.8" y1="0" y2="0"><stop offset="0" stop-color="#57453c"/><stop offset="0.03" stop-color="#5d4a40"/><stop offset="0.07" stop-color="#645046"/><stop offset="0.12" stop-color="#6e584d"/><stop offset="0.18" stop-color="#81675a"/><stop offset="0.25" stop-color="#997a6a"/><stop offset="0.33" stop-color="#b48f7d"/><stop offset="0.42" stop-color="#cca38e"/><stop offset="0.5" stop-color="#dfb29b"/><stop offset="0.58" stop-color="#f1c0a8"/><stop offset="0.66" stop-color="#fdcab0"/><stop offset="0.68" stop-color="#ffcbb1"/><stop offset="0.74" stop-color="#ffceb3"/><stop offset="0.74" stop-color="#ffceb3"/><stop offset="0.81" stop-color="#ffcbb1"/><stop offset="0.82" stop-color="#fecab0"/><stop offset="0.88" stop-color="#f6c4ab"/><stop offset="0.93" stop-color="#edbda5"/><stop offset="0.97" stop-color="#e6b79f"/><stop offset="1" stop-color="#deb09a"/></linearGradient>
<linearGradient id="g13_1" gradientUnits="userSpaceOnUse" x1="1647.3" x2="1692.8" y1="0" y2="0"><stop offset="0" stop-color="#600101"/><stop offset="0.03" stop-color="#660202"/><stop offset="0.07" stop-color="#6e0202"/><stop offset="0.12" stop-color="#790202"/><stop offset="0.18" stop-color="#8e0202"/><stop offset="0.25" stop-color="#a90303"/><stop offset="0.33" stop-color="#c60303"/><stop offset="0.42" stop-color="#e10404"/><stop offset="0.5" stop-color="#f60404"/><stop offset="0.58" stop-color="#ff0404"/><stop offset="0.66" stop-color="#ff0404"/><stop offset="0.68" stop-color="#ff0404"/><stop offset="0.74" stop-color="#ff0808"/><stop offset="0.74" stop-color="#ff0808"/><stop offset="0.81" stop-color="#ff0404"/><stop offset="0.82" stop-color="#ff0404"/><stop offset="0.88" stop-color="#ff0404"/><stop offset="0.93" stop-color="#ff0404"/><stop offset="0.97" stop-color="#fd0404"/><stop offset="1" stop-color="#f40404"/></linearGradient>
<linearGradient id="g13_2" gradientUnits="userSpaceOnUse" x1="1647.3" x2="1692.8" y1="0" y2="0"><stop offset="0" stop-color="#606002"/><stop offset="0.03" stop-color="#666602"/><stop offset="0.07" stop-color="#6e6e03"/><stop offset="0.12" stop-color="#797903"/><stop offset="0.18" stop-color="#8e8e03"/><stop offset="0.25" stop-color="#a9a904"/><stop offset="0.33" stop-color="#c6c605"/><stop offset="0.42" stop-color="#e1e105"/><stop offset="0.5" stop-color="#f6f606"/><stop offset="0.58" stop-color="#ffff06"/><stop offset="0.66" stop-color="#ffff06"/><stop offset="0.68" stop-color="#ffff06"/><stop offset="0.74" stop-color="#ffff0a"/><stop offset="0.74" stop-color="#ffff0a"/><stop offset="0.81" stop-color="#ffff06"/><stop offset="0.82" stop-color="#ffff06"/><stop offset="0.88" stop-color="#ffff06"/><stop offset="0.93" stop-color="#ffff06"/><stop offset="0.97" stop-color="#fdfd06"/><stop offset="1" stop-color="#f4f406"/></linearGradient>
<linearGradient id="g14_0" gradientUnits="userSpaceOnUse" x1="1740.8" x2="1786.8" y1="0" y2="0"><stop offset="0" stop-color="#55443b"/><stop offset="0.03" stop-color="#5a473e"/><stop offset="0.07" stop-color="#604c42"/><stop offset="0.12" stop-color="#675248"/><stop offset="0.18" stop-color="#796154"/><stop offset="0.25" stop-color="#917465"/><stop offset="0.33" stop-color="#ac8978"/><stop offset="0.42" stop-color="#c69d89"/><stop offset="0.5" stop-color="#d9ad97"/><stop offset="0.58" stop-color="#ecbca4"/><stop offset="0.66" stop-color="#fac7ae"/><stop offset="0.7" stop-color="#ffcbb1"/><stop offset="0.74" stop-color="#ffcdb3"/><stop offset="0.77" stop-color="#ffcdb3"/><stop offset="0.82" stop-color="#ffccb2"/><stop offset="0.84" stop-color="#fecab0"/><stop offset="0.88" stop-color="#f8c6ac"/><stop offset="0.93" stop-color="#f0bfa7"/><stop offset="0.97" stop-color="#e9baa2"/><stop offset="1" stop-color="#e3b59e"/></linearGradient>
<linearGradient id="g14_1" gradientUnits="userSpaceOnUse" x1="1740.8" x2="1786.8" y1="0" y2="0"><stop offset="0" stop-color="#5e0101"/><stop offset="0.03" stop-color="#630202"/><stop offset="0.07" stop-color="#690202"/><stop offset="0.12" stop-color="#720202"/><stop offset="0.18" stop-color="#850202"/><stop offset="0.25" stop-color="#a00303"/><stop offset="0.33" stop-color="#be0303"/><stop offset="0.42" stop-color="#d90303"/><stop offset="0.5" stop-color="#ef0404"/><stop offset="0.58" stop-color="#ff0404"/><stop offset="0.66" stop-color="#ff0404"/><stop offset="0.7" stop-color="#ff0404"/><stop offset="0.74" stop-color="#ff0707"/><stop offset="0.77" stop-color="#ff0707"/><stop offset="0.82" stop-color="#ff0606"/><stop offset="0.84" stop-color="#ff0404"/><stop offset="0.88" stop-color="#ff0404"/><stop offset="0.93" stop-color="#ff0404"/><stop offset="0.97" stop-color="#ff0404"/><stop offset="1" stop-color="#fa0404"/></linearGradient>
<linearGradient id="g14_2" gradientUnits="userSpaceOnUse" x1="1740.8" x2="1786.8" y1="0" y2="0"><stop offset="0" stop-color="#5e5e02"/><stop offset="0.03" stop-color="#636302"/><stop offset="0.07" stop-color="#696902"/><stop offset="0.12" stop-color="#727203"/><stop offset="0.18" stop-color="#858503"/><stop offset="0.25" stop-color="#a0a004"/><stop offset="0.33" stop-color="#bebe04"/><stop offset="0.42" stop-color="#d9d905"/><stop offset="0.5" stop-color="#efef06"/><stop offset="0.58" stop-color="#ffff06"/><stop offset="0.66" stop-color="#ffff06"/><stop offset="0.7" stop-color="#ffff06"/><stop offset="0.74" stop-color="#ffff09"/><stop offset="0.77" stop-color="#ffff09"/><stop offset="0.82" stop-color="#ffff08"/><stop offset="0.84" stop-color="#ffff06"/><stop offset="0.88" stop-color="#ffff06"/><stop offset="0.93" stop-color="#ffff06"/><stop offset="0.97" stop-color="#ffff06"/><stop offset="1" stop-color="#fafa06"/></linearGradient>
<linearGradient id="g15_0" gradientUnits="userSpaceOnUse" x1="1834" x2="1880.7" y1="0" y2="0"><stop offset="0" stop-color="#54433a"/><stop offset="0.03" stop-color="#57453c"/><stop offset="0.07" stop-color="#5b493f"/><stop offset="0.12" stop-color="#614d43"/><stop offset="0.18" stop-color="#715a4f"/><stop offset="0.25" stop-color="#896d5f"/><stop offset="0.33" stop-color="#a58473"/><stop offset="0.42" stop-color="#bf9884"/><stop offset="0.5" stop-color="#d3a892"/><stop offset="0.58" stop-color="#e6b79f"/><stop offset="0.66" stop-color="#f7c5ac"/><stop offset="0.73" stop-color="#ffcbb1"/><stop offset="0.74" stop-color="#ffccb2"/><stop offset="0.8" stop-color="#ffccb2"/><stop offset="0.82" stop-color="#ffccb2"/><stop offset="0.87" stop-color="#fdcab0"/><stop offset="0.88" stop-color="#fbc8ae"/><stop offset="0.93" stop-color="#f3c1a8"/><stop offset="0.97" stop-color="#edbca4"/><stop offset="1" stop-color="#e9b9a2"/></linearGradient>
<linearGradient id="g15_1" gradientUnits="userSpaceOnUse" x1="1834" x2="1880.7" y1="0" y2="0"><stop offset="0" stop-color="#5c0101"/><stop offset="0.03" stop-color="#600202"/><stop offset="0.07" stop-color="#650202"/><stop offset="0.12" stop-color="#6b0202"/><stop offset="0.18" stop-color="#7d0202"/><stop offset="0.25" stop-color="#970202"/><stop offset="0.33" stop-color="#b60303"/><stop offset="0.42" stop-color="#d20303"/><stop offset="0.5" stop-color="#e80404"/><stop offset="0.58" stop-color="#fd0404"/><stop offset="0.66" stop-color="#ff0404"/><stop offset="0.73" stop-color="#ff0404"/><stop offset="0.74" stop-color="#ff0505"/><stop offset="0.8" stop-color="#ff0606"/><stop offset="0.82" stop-color="#ff0606"/><stop offset="0.87" stop-color="#ff0404"/><stop offset="0.88" stop-color="#ff0404"/><stop offset="0.93" stop-color="#ff0404"/><stop offset="0.97" stop-color="#ff0404"/><stop offset="1" stop-color="#ff0404"/></linearGradient>
<linearGradient id="g15_2" gradientUnits="userSpaceOnUse" x1="1834" x2="1880.7" y1="0" y2="0"><stop offset="0" stop-color="#5c5c02"/><stop offset="0.03" stop-color="#606002"/><stop offset="0.07" stop-color="#656502"/><stop offset="0.12" stop-color="#6b6b03"/><stop offset="0.18" stop-color="#7d7d03"/><stop offset="0.25" stop-color="#979704"/><stop offset="0.33" stop-color="#b6b604"/><stop offset="0.42" stop-color="#d2d205"/><stop offset="0.5" stop-color="#e8e805"/><stop offset="0.58" stop-color="#fdfd06"/><stop offset="0.66" stop-color="#ffff06"/><stop offset="0.73" stop-color="#ffff06"/><stop offset="0.74" stop-color="#ffff07"/><stop offset="0.8" stop-color="#ffff08"/><stop offset="0.82" stop-color="#ffff08"/><stop offset="0.87" stop-color="#ffff06"/><stop offset="0.88" stop-color="#ffff06"/><stop offset="0.93" stop-color="#ffff06"/><stop offset="0.97" stop-color="#ffff06"/><stop offset="1" stop-color="#ffff06"/></linearGradient>
</defs>
<rect x="0" y="0" width="2214" height="1146" fill="#fff"/>
<rect x="242.7" y="18.7" width="1699.4" height="888.6" rx="2" ry="2" fill="#fff" stroke="#d9d9d9" stroke-width="1.8"/>
<text y="67.8" font-size="35.5" fill="#000"><tspan x="733.4" textLength="115.4" lengthAdjust="spacingAndGlyphs">Strafen</tspan> <tspan x="856.6" textLength="29.5" lengthAdjust="spacingAndGlyphs">in</tspan> <tspan x="895.3" textLength="53.8" lengthAdjust="spacingAndGlyphs">der</tspan> <tspan x="958" textLength="189.9" lengthAdjust="spacingAndGlyphs">Regionalliga</tspan> <tspan x="1158.7" textLength="292.4" lengthAdjust="spacingAndGlyphs">Mitteldeutschland</tspan></text>
<text x="1014.4" y="115.3" font-size="35.5" textLength="155.3" lengthAdjust="spacingAndGlyphs" fill="#000">11.1.2026</text>
<line x1="400" y1="600.9" x2="1913.4" y2="600.9" stroke="#d9d9d9" stroke-width="1.8"/>
<g><path d="M433 172.06 Q456.45 170.96 479.9 174.26 L479.9 220.81 Q456.45 217.51 433 218.61 Z" fill="url(#g0_2)"/><path d="M433 218.01 Q456.45 216.91 479.9 220.21 L479.9 252.98 Q456.45 249.68 433 250.78 Z" fill="url(#g0_1)"/><path d="M433 250.18 Q456.45 249.08 479.9 252.38 L479.9 597.1 C465.83 600.7 435.35 601.4 433 598.2 Z" fill="url(#g0_0)"/></g>
<g><path d="M527 176.76 Q550.15 175.56 573.3 178.76 L573.3 248.28 Q550.15 245.08 527 246.28 Z" fill="url(#g1_2)"/><path d="M527 245.68 Q550.15 244.48 573.3 247.68 L573.3 257.47 Q550.15 254.27 527 255.47 Z" fill="url(#g1_1)"/><path d="M527 254.87 Q550.15 253.67 573.3 256.87 L573.3 597.17 C560.18 600.75 530.09 601.35 527 598.13 Z" fill="url(#g1_0)"/></g>
<g><path d="M620.5 158.48 Q643.25 157.18 666 160.28 L666 220.61 Q643.25 217.51 620.5 218.81 Z" fill="url(#g2_2)"/><path d="M620.5 218.21 Q643.25 216.91 666 220.01 L666 261.97 Q643.25 258.87 620.5 260.17 Z" fill="url(#g2_1)"/><path d="M620.5 259.57 Q643.25 258.27 666 261.37 L666 597.25 C653.87 600.79 624.29 601.31 620.5 598.05 Z" fill="url(#g2_0)"/></g>
<g><path d="M714.2 199.93 Q736.55 198.53 758.9 201.53 L758.9 248.08 Q736.55 245.08 714.2 246.48 Z" fill="url(#g3_2)"/><path d="M714.2 245.88 Q736.55 244.48 758.9 247.48 L758.9 271.06 Q736.55 268.06 714.2 269.46 Z" fill="url(#g3_1)"/><path d="M714.2 268.86 Q736.55 267.46 758.9 270.46 L758.9 597.32 C747.73 600.84 718.67 601.26 714.2 597.98 Z" fill="url(#g3_0)"/></g>
<g><path d="M807.9 154.08 Q830 152.58 852.1 155.48 L852.1 238.79 Q830 235.89 807.9 237.39 Z" fill="url(#g4_2)"/><path d="M807.9 236.79 Q830 235.29 852.1 238.19 L852.1 280.15 Q830 277.25 807.9 278.75 Z" fill="url(#g4_1)"/><path d="M807.9 278.15 Q830 276.65 852.1 279.55 L852.1 597.39 C841.79 600.89 813.06 601.21 807.9 597.91 Z" fill="url(#g4_0)"/></g>
<g><path d="M901.3 213.92 Q923.45 212.32 945.6 215.12 L945.6 261.67 Q923.45 258.87 901.3 260.47 Z" fill="url(#g5_2)"/><path d="M901.3 259.87 Q923.45 258.27 945.6 261.07 L945.6 284.64 Q923.45 281.85 901.3 283.44 Z" fill="url(#g5_1)"/><path d="M901.3 282.84 Q923.45 281.25 945.6 284.04 L945.6 597.47 C936 600.93 907.21 601.17 901.3 597.83 Z" fill="url(#g5_0)"/></g>
<g><path d="M995.2 246.18 Q1017 244.48 1038.8 247.18 L1038.8 279.95 Q1017 277.25 995.2 278.95 Z" fill="url(#g6_2)"/><path d="M995.2 278.35 Q1017 276.65 1038.8 279.35 L1038.8 293.73 Q1017 291.03 995.2 292.73 Z" fill="url(#g6_1)"/><path d="M995.2 292.13 Q1017 290.43 1038.8 293.13 L1038.8 597.54 C1030.08 600.98 1001.74 601.12 995.2 597.76 Z" fill="url(#g6_0)"/></g>
<g><path d="M1088.4 237.09 Q1110.25 235.29 1132.1 237.89 L1132.1 279.85 Q1110.25 277.25 1088.4 279.05 Z" fill="url(#g7_2)"/><path d="M1088.4 278.45 Q1110.25 276.65 1132.1 279.25 L1132.1 293.63 Q1110.25 291.04 1088.4 292.83 Z" fill="url(#g7_1)"/><path d="M1088.4 292.23 Q1110.25 290.44 1132.1 293.03 L1132.1 597.61 C1124.09 601.03 1095.68 601.07 1088.4 597.69 Z" fill="url(#g7_0)"/></g>
<g><path d="M1181.8 228 Q1203.6 226.1 1225.4 228.6 L1225.4 293.53 Q1203.6 291.04 1181.8 292.93 Z" fill="url(#g8_2)"/><path d="M1181.8 292.33 Q1203.6 290.44 1225.4 292.93 L1225.4 307.32 Q1203.6 304.82 1181.8 306.72 Z" fill="url(#g8_1)"/><path d="M1181.8 306.12 Q1203.6 304.22 1225.4 306.72 L1225.4 597.69 C1218.13 601.07 1189.79 601.03 1181.8 597.61 Z" fill="url(#g8_0)"/></g>
<g><path d="M1275.2 274.05 Q1297 272.06 1318.8 274.45 L1318.8 311.81 Q1297 309.42 1275.2 311.42 Z" fill="url(#g9_2)"/><path d="M1275.2 310.81 Q1297 308.82 1318.8 311.21 L1318.8 321 Q1297 318.61 1275.2 320.61 Z" fill="url(#g9_1)"/><path d="M1275.2 320 Q1297 318.01 1318.8 320.4 L1318.8 597.76 C1312.26 601.12 1283.92 600.98 1275.2 597.54 Z" fill="url(#g9_0)"/></g>
<g><path d="M1368.3 246.58 Q1390.2 244.48 1412.1 246.78 L1412.1 297.93 Q1390.2 295.63 1368.3 297.73 Z" fill="url(#g10_2)"/><path d="M1368.3 297.13 Q1390.2 295.03 1412.1 297.33 L1412.1 320.91 Q1390.2 318.61 1368.3 320.7 Z" fill="url(#g10_1)"/><path d="M1368.3 320.1 Q1390.2 318 1412.1 320.31 L1412.1 597.83 C1406.26 601.17 1377.79 600.93 1368.3 597.47 Z" fill="url(#g10_0)"/></g>
<g><path d="M1461.7 246.68 Q1483.85 244.48 1506 246.68 L1506 297.83 Q1483.85 295.63 1461.7 297.83 Z" fill="url(#g11_2)"/><path d="M1461.7 297.23 Q1483.85 295.03 1506 297.23 L1506 330 Q1483.85 327.8 1461.7 330 Z" fill="url(#g11_1)"/><path d="M1461.7 329.39 Q1483.85 327.2 1506 329.39 L1506 597.91 C1500.83 601.21 1472.04 600.89 1461.7 597.39 Z" fill="url(#g11_0)"/></g>
<g><path d="M1555 265.16 Q1577.25 262.87 1599.5 264.96 L1599.5 325.3 Q1577.25 323.2 1555 325.5 Z" fill="url(#g12_2)"/><path d="M1555 324.9 Q1577.25 322.6 1599.5 324.7 L1599.5 343.68 Q1577.25 341.58 1555 343.88 Z" fill="url(#g12_1)"/><path d="M1555 343.28 Q1577.25 340.98 1599.5 343.08 L1599.5 597.98 C1595.05 601.26 1566.12 600.84 1555 597.32 Z" fill="url(#g12_0)"/></g>
<g><path d="M1647.3 269.86 Q1670.05 267.46 1692.8 269.46 L1692.8 343.58 Q1670.05 341.58 1647.3 343.98 Z" fill="url(#g13_2)"/><path d="M1647.3 343.38 Q1670.05 340.98 1692.8 342.98 L1692.8 357.37 Q1670.05 355.37 1647.3 357.76 Z" fill="url(#g13_1)"/><path d="M1647.3 357.16 Q1670.05 354.77 1692.8 356.76 L1692.8 598.05 C1689.01 601.31 1659.43 600.79 1647.3 597.25 Z" fill="url(#g13_0)"/></g>
<g><path d="M1740.8 320.5 Q1763.8 318.01 1786.8 319.9 L1786.8 352.67 Q1763.8 350.77 1740.8 353.27 Z" fill="url(#g14_2)"/><path d="M1740.8 352.67 Q1763.8 350.17 1786.8 352.07 L1786.8 371.05 Q1763.8 369.15 1740.8 371.65 Z" fill="url(#g14_1)"/><path d="M1740.8 371.05 Q1763.8 368.55 1786.8 370.45 L1786.8 598.13 C1783.73 601.35 1753.83 600.75 1740.8 597.17 Z" fill="url(#g14_0)"/></g>
<g><path d="M1834 343.58 Q1857.35 340.98 1880.7 342.78 L1880.7 375.55 Q1857.35 373.75 1834 376.34 Z" fill="url(#g15_2)"/><path d="M1834 375.74 Q1857.35 373.15 1880.7 374.94 L1880.7 398.52 Q1857.35 396.72 1834 399.32 Z" fill="url(#g15_1)"/><path d="M1834 398.72 Q1857.35 396.12 1880.7 397.92 L1880.7 598.2 C1878.37 601.4 1848.01 600.7 1834 597.1 Z" fill="url(#g15_0)"/></g>
<text x="448.7" y="441.34" text-anchor="middle" font-size="40" fill="#000">76</text>
<text x="448.7" y="244.95" text-anchor="middle" font-size="27" textLength="14.2" lengthAdjust="spacingAndGlyphs" fill="#000">7</text>
<text x="448.7" y="205.89" text-anchor="middle" font-size="27" textLength="28.0" lengthAdjust="spacingAndGlyphs" fill="#000">10</text>
<text x="543.13" y="443.64" text-anchor="middle" font-size="40" fill="#000">75</text>
<text x="543.13" y="261.03" text-anchor="middle" font-size="27" textLength="14.2" lengthAdjust="spacingAndGlyphs" fill="#000">2</text>
<text x="543.13" y="221.97" text-anchor="middle" font-size="27" textLength="28.0" lengthAdjust="spacingAndGlyphs" fill="#000">15</text>
<text x="637.56" y="445.94" text-anchor="middle" font-size="40" fill="#000">74</text>
<text x="637.56" y="249.54" text-anchor="middle" font-size="27" textLength="14.2" lengthAdjust="spacingAndGlyphs" fill="#000">9</text>
<text x="637.56" y="199" text-anchor="middle" font-size="27" textLength="28.0" lengthAdjust="spacingAndGlyphs" fill="#000">13</text>
<text x="731.99" y="450.53" text-anchor="middle" font-size="40" fill="#000">72</text>
<text x="731.99" y="267.92" text-anchor="middle" font-size="27" textLength="14.2" lengthAdjust="spacingAndGlyphs" fill="#000">5</text>
<text x="731.99" y="233.46" text-anchor="middle" font-size="27" textLength="28.0" lengthAdjust="spacingAndGlyphs" fill="#000">10</text>
<text x="826.42" y="455.12" text-anchor="middle" font-size="40" fill="#000">70</text>
<text x="826.42" y="267.92" text-anchor="middle" font-size="27" textLength="14.2" lengthAdjust="spacingAndGlyphs" fill="#000">9</text>
<text x="826.42" y="205.89" text-anchor="middle" font-size="27" textLength="28.0" lengthAdjust="spacingAndGlyphs" fill="#000">18</text>
<text x="920.85" y="457.42" text-anchor="middle" font-size="40" fill="#000">69</text>
<text x="920.85" y="281.71" text-anchor="middle" font-size="27" textLength="14.2" lengthAdjust="spacingAndGlyphs" fill="#000">5</text>
<text x="920.85" y="247.25" text-anchor="middle" font-size="27" textLength="28.0" lengthAdjust="spacingAndGlyphs" fill="#000">10</text>
<text x="1015.28" y="462.02" text-anchor="middle" font-size="40" fill="#000">67</text>
<text x="1015.28" y="295.49" text-anchor="middle" font-size="27" textLength="14.2" lengthAdjust="spacingAndGlyphs" fill="#000">3</text>
<text x="1015.28" y="272.52" text-anchor="middle" font-size="27" textLength="14.2" lengthAdjust="spacingAndGlyphs" fill="#000">7</text>
<text x="1109.71" y="462.02" text-anchor="middle" font-size="40" fill="#000">67</text>
<text x="1109.71" y="295.49" text-anchor="middle" font-size="27" textLength="14.2" lengthAdjust="spacingAndGlyphs" fill="#000">3</text>
<text x="1109.71" y="267.92" text-anchor="middle" font-size="27" textLength="14.2" lengthAdjust="spacingAndGlyphs" fill="#000">9</text>
<text x="1204.14" y="468.91" text-anchor="middle" font-size="40" fill="#000">64</text>
<text x="1204.14" y="309.28" text-anchor="middle" font-size="27" textLength="14.2" lengthAdjust="spacingAndGlyphs" fill="#000">3</text>
<text x="1204.14" y="270.22" text-anchor="middle" font-size="27" textLength="28.0" lengthAdjust="spacingAndGlyphs" fill="#000">14</text>
<text x="1298.57" y="475.8" text-anchor="middle" font-size="40" fill="#000">61</text>
<text x="1298.57" y="325.36" text-anchor="middle" font-size="27" textLength="14.2" lengthAdjust="spacingAndGlyphs" fill="#000">2</text>
<text x="1298.57" y="302.38" text-anchor="middle" font-size="27" textLength="14.2" lengthAdjust="spacingAndGlyphs" fill="#000">8</text>
<text x="1393" y="475.8" text-anchor="middle" font-size="40" fill="#000">61</text>
<text x="1393" y="318.47" text-anchor="middle" font-size="27" textLength="14.2" lengthAdjust="spacingAndGlyphs" fill="#000">5</text>
<text x="1393" y="281.71" text-anchor="middle" font-size="27" textLength="28.0" lengthAdjust="spacingAndGlyphs" fill="#000">11</text>
<text x="1487.43" y="480.4" text-anchor="middle" font-size="40" fill="#000">59</text>
<text x="1487.43" y="323.06" text-anchor="middle" font-size="27" textLength="14.2" lengthAdjust="spacingAndGlyphs" fill="#000">7</text>
<text x="1487.43" y="281.71" text-anchor="middle" font-size="27" textLength="28.0" lengthAdjust="spacingAndGlyphs" fill="#000">11</text>
<text x="1581.86" y="487.29" text-anchor="middle" font-size="40" fill="#000">56</text>
<text x="1581.86" y="343.74" text-anchor="middle" font-size="27" textLength="14.2" lengthAdjust="spacingAndGlyphs" fill="#000">4</text>
<text x="1581.86" y="304.68" text-anchor="middle" font-size="27" textLength="28.0" lengthAdjust="spacingAndGlyphs" fill="#000">13</text>
<text x="1676.29" y="494.18" text-anchor="middle" font-size="40" fill="#000">53</text>
<text x="1676.29" y="359.82" text-anchor="middle" font-size="27" textLength="14.2" lengthAdjust="spacingAndGlyphs" fill="#000">3</text>
<text x="1676.29" y="316.17" text-anchor="middle" font-size="27" textLength="28.0" lengthAdjust="spacingAndGlyphs" fill="#000">16</text>
<text x="1770.72" y="501.07" text-anchor="middle" font-size="40" fill="#000">50</text>
<text x="1770.72" y="371.31" text-anchor="middle" font-size="27" textLength="14.2" lengthAdjust="spacingAndGlyphs" fill="#000">4</text>
<text x="1770.72" y="346.04" text-anchor="middle" font-size="27" textLength="14.2" lengthAdjust="spacingAndGlyphs" fill="#000">7</text>
<text x="1865.15" y="514.86" text-anchor="middle" font-size="40" fill="#000">44</text>
<text x="1865.15" y="396.58" text-anchor="middle" font-size="27" textLength="14.2" lengthAdjust="spacingAndGlyphs" fill="#000">5</text>
<text x="1865.15" y="369.01" text-anchor="middle" font-size="27" textLength="14.2" lengthAdjust="spacingAndGlyphs" fill="#000">7</text>
<text transform="translate(456.9 645.2) rotate(-45)" text-anchor="end" font-size="31.8" fill="#595959">HC Glauchau/M.</text>
<text transform="translate(551.33 645.2) rotate(-45)" text-anchor="end" font-size="31.8" fill="#595959">HC Elbflorenz II</text>
<text transform="translate(645.76 645.2) rotate(-45)" text-anchor="end" font-size="31.8" fill="#595959">SG Pirna/Heidenau</text>
<text transform="translate(740.19 645.2) rotate(-45)" text-anchor="end" font-size="31.8" fill="#595959">ThSV Eisenach II</text>
<text transform="translate(834.62 645.2) rotate(-45)" text-anchor="end" font-size="31.8" fill="#595959">HSG Freiberg</text>
<text transform="translate(929.05 645.2) rotate(-45)" text-anchor="end" font-size="31.8" fill="#595959">HSV Bad Blankenburg</text>
<text transform="translate(1023.48 645.2) rotate(-45)" text-anchor="end" font-size="31.8" fill="#595959">SV Oebisfelde 1895</text>
<text transform="translate(1117.91 645.2) rotate(-45)" text-anchor="end" font-size="31.8" fill="#595959">HC Aschersleben</text>
<text transform="translate(1234.34 623.2) rotate(-45)" text-anchor="end" font-size="31.8" fill="#595959">SG G-W Wittenberg-…</text>
<text transform="translate(1306.77 645.2) rotate(-45)" text-anchor="end" font-size="31.8" fill="#595959">HV R-W Staßfurt</text>
<text transform="translate(1401.2 645.2) rotate(-45)" text-anchor="end" font-size="31.8" fill="#595959">HC Burgenland</text>
<text transform="translate(1495.63 645.2) rotate(-45)" text-anchor="end" font-size="31.8" fill="#595959">HC Einheit Plauen</text>
<text transform="translate(1590.06 645.2) rotate(-45)" text-anchor="end" font-size="31.8" fill="#595959">USV Halle</text>
<text transform="translate(1684.49 645.2) rotate(-45)" text-anchor="end" font-size="31.8" fill="#595959">SV Anhalt Bernburg</text>
<text transform="translate(1778.92 645.2) rotate(-45)" text-anchor="end" font-size="31.8" fill="#595959">HG 85 Köthen</text>
<text transform="translate(1873.35 645.2) rotate(-45)" text-anchor="end" font-size="31.8" fill="#595959">NHV C. Delitzsch</text>
<rect x="1734.9" y="808" width="13.7" height="13.7" fill="#ffff00"/>
<text x="1754.9" y="821.9" font-size="21.8" textLength="125.6" lengthAdjust="spacingAndGlyphs" fill="#595959">Gelbe Karte</text>
<rect x="1734.9" y="836.9" width="13.7" height="13.7" fill="#ff0000"/>
<text x="1754.9" y="850.8" font-size="21.8" textLength="113.0" lengthAdjust="spacingAndGlyphs" fill="#595959">Rote Karte</text>
<rect x="1734.9" y="865.8" width="13.7" height="13.7" fill="#f4b9a2"/>
<text x="1754.9" y="879.7" font-size="21.8" textLength="67.8" lengthAdjust="spacingAndGlyphs" fill="#595959">2 Min.</text>
</svg></body></html>
